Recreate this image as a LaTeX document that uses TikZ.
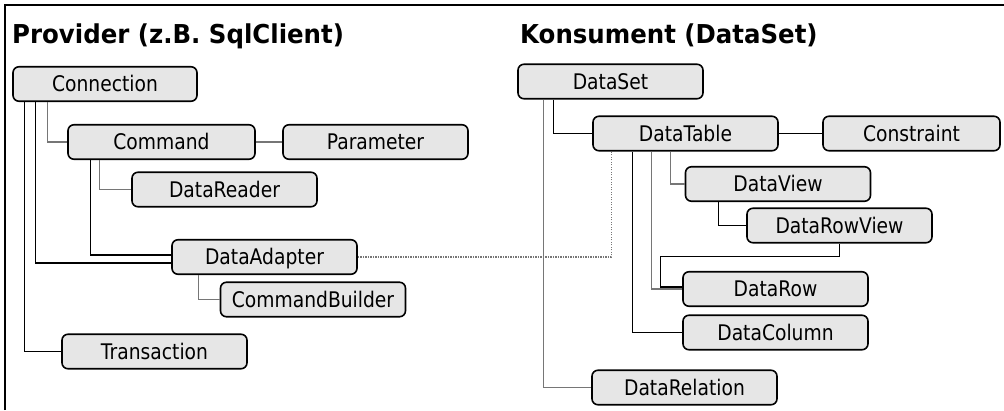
\documentclass[tikz,border=0pt]{standalone}
\usepackage{fontspec}
\setmainfont[FakeStretch=0.87]{DejaVu Sans}
\newfontfamily\titlefont[FakeStretch=0.94]{DejaVu Sans}
\definecolor{boxfill}{HTML}{E6E6E6}
\definecolor{lgray}{HTML}{767676}
\begin{document}
\begin{tikzpicture}[x=1pt,y=-1pt,
  box/.style={draw=black, line width=1.6pt, fill=boxfill, rounded corners=6pt,
    minimum width=185pt, minimum height=34.5pt, inner sep=0pt,
    font=\fontsize{21.5}{24}\selectfont, text height=15.6pt, text depth=0pt},
  ttl/.style={anchor=base west, inner sep=0pt, font=\titlefont\bfseries\fontsize{26}{30}\selectfont},
  blk/.style={draw=black, line width=1.2pt},
  gry/.style={draw=lgray, line width=1.2pt},
  dots/.style={draw=lgray, line width=1.2pt, dash pattern=on 1.2pt off 1.3pt}]
\useasboundingbox (0,0) rectangle (1004,410);
% frame
\draw[line width=2.5pt] (5,410) -- (5,5) -- (1004,5);
% titles
\node[ttl] (t1) at (12,43) {Provider (z.B. SqlClient)};
\node[ttl] (t2) at (520,43) {Konsument (DataSet)};
% provider boxes
\node[box, minimum width=184pt] (conn) at (105,84) {Connection};
\node[box, minimum width=187pt] (cmd) at (161.5,142) {Command};
\node[box] (param) at (375.5,142) {Parameter};
\node[box] (reader) at (224.5,189.5) {DataReader};
\node[box] (adapter) at (264.5,257) {DataAdapter};
\node[box] (builder) at (313,299.5) {CommandBuilder};
\node[box] (trans) at (154.5,351.5) {Transaction};
% consumer boxes
\node[box] (dataset) at (610.5,81.5) {DataSet};
\node[box] (datatable) at (685.5,133.5) {DataTable};
\node[box, minimum width=177pt] (constraint) at (911.5,133.5) {Constraint};
\node[box] (dataview) at (778,184) {DataView};
\node[box] (rowview) at (839.5,225.5) {DataRowView};
\node[box] (datarow) at (775.5,289) {DataRow};
\node[box] (datacolumn) at (775.5,332.5) {DataColumn};
\node[box] (relation) at (684.5,387.5) {DataRelation};
% provider connectors
\draw[blk] ([xshift=12pt]conn.south west) |- (trans.west);
\draw[blk] ([xshift=23pt]conn.south west) |- ([yshift=-6pt]adapter.west);
\draw[gry] ([xshift=35pt]conn.south west) |- (cmd.west);
\draw[gry] (cmd.east) -- (param.west);
\draw[gry] ([xshift=32pt]cmd.south west) |- (reader.west);
\draw[blk] ([xshift=23pt]cmd.south west) |- ([yshift=2pt]adapter.west);
\draw[gry] ([xshift=27pt]adapter.south west) |- (builder.west);
\draw[dots] (adapter.east) -| ([xshift=19pt]datatable.south west);
% consumer connectors
\draw[gry] ([xshift=26pt]dataset.south west) |- (relation.west);
\draw[blk] ([xshift=36pt]dataset.south west) |- (datatable.west);
\draw[blk] (datatable.east) -- (constraint.west);
\draw[blk] ([xshift=40pt]datatable.south west) |- (datacolumn.west);
\draw[gry] ([xshift=59pt]datatable.south west) |- (datarow.west);
\draw[gry] ([xshift=78pt]datatable.south west) |- (dataview.west);
\draw[blk] ([xshift=34pt]dataview.south west) |- (rowview.west);
\draw[blk] (rowview.south) -- ++(0,13) -| ([xshift=-22pt,yshift=2pt]datarow.west) -- ([yshift=2pt]datarow.west);
\end{tikzpicture}
\end{document}
